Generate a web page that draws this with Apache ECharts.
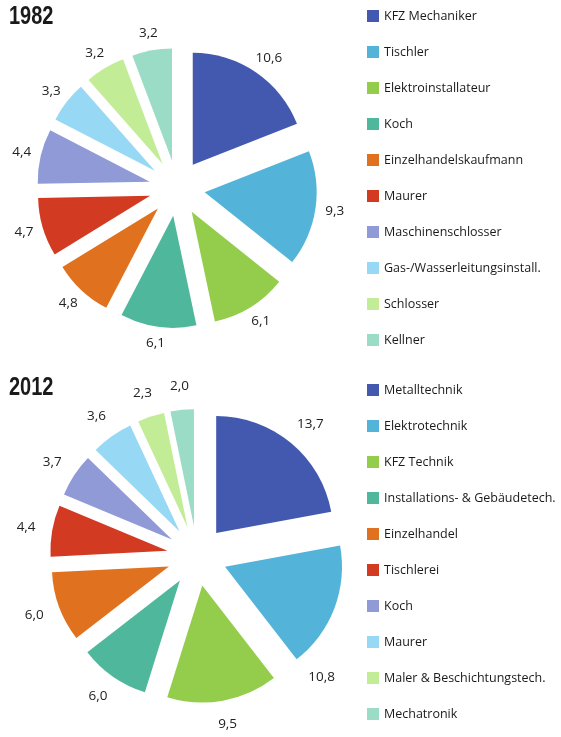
<!DOCTYPE html>
<html>
<head>
<meta charset="utf-8">
<script src="https://cdn.jsdelivr.net/npm/echarts@6/dist/echarts.min.js"></script>
<style>
  html, body { margin: 0; padding: 0; background: #fff; }
  #chart { width: 561px; height: 737px; }
</style>
</head>
<body>
<div id="chart"></div>
<script>
// Lehrlinge: die 10 häufigsten Lehrberufe (Anteil in %)
var names1982 = ['KFZ Mechaniker', 'Tischler', 'Elektroinstallateur', 'Koch', 'Einzelhandelskaufmann',
  'Maurer', 'Maschinenschlosser', 'Gas-/Wasserleitungsinstall.', 'Schlosser', 'Kellner'];
var values1982 = [10.6, 9.3, 6.1, 6.1, 4.8, 4.7, 4.4, 3.3, 3.2, 3.2];

var names2012 = ['Metalltechnik', 'Elektrotechnik', 'KFZ Technik', 'Installations- & Gebäudetech.', 'Einzelhandel',
  'Tischlerei', 'Koch', 'Maurer', 'Maler & Beschichtungstech.', 'Mechatronik'];
var values2012 = [13.7, 10.8, 9.5, 6.0, 6.0, 4.4, 3.7, 3.6, 2.3, 2.0];

var colors = ['#4359af', '#53b3d8', '#93cd4b', '#4fb79b', '#e0711f',
  '#d23a22', '#8f9ad7', '#97d8f5', '#c3ec97', '#9bdcc6'];

var chart = echarts.init(document.getElementById('chart'));

function fmt(p) {
  return p.value.toFixed(1).replace('.', ',');
}

// Richtung der Winkelhalbierenden jedes Stücks (Start oben, im Uhrzeigersinn)
function midDirs(values) {
  var total = values.reduce(function (a, b) { return a + b; }, 0);
  var cum = 0;
  return values.map(function (v) {
    var mid = (cum + v / 2) / total * Math.PI * 2;
    cum += v;
    return [Math.sin(mid), -Math.cos(mid)];
  });
}
var dirs = [midDirs(values1982), midDirs(values2012)];

// jedes Stück "herausgezogen" -> alle selektiert
function pieData(names, values) {
  return names.map(function (n, i) {
    return { name: n, value: values[i], selected: true, itemStyle: { color: colors[i] } };
  });
}

function legendData(names) {
  return names.map(function (n, i) {
    return { name: n, itemStyle: { color: colors[i] } };
  });
}

// Beschriftung wie in Excel: Textbox liegt außen an der Winkelhalbierenden
function labelPlace(params) {
  var d = dirs[params.seriesIndex][params.dataIndex];
  var r = params.labelRect;
  var dx = d[0] * r.width / 2;
  var dy = d[1] * r.height / 2;
  if (params.seriesIndex === 1 && params.dataIndex === 1) { // 10,8 sitzt im Original unter dem Stück
    dx -= 41; dy += 60;
  }
  return { align: 'center', verticalAlign: 'middle', dx: dx, dy: dy };
}

function pieSeries(names, values, center, radius, offset, labelLen) {
  return {
    type: 'pie',
    center: center,
    radius: radius,
    startAngle: 90,
    clockwise: true,
    selectedMode: 'multiple',
    selectedOffset: offset,
    avoidLabelOverlap: false,
    silent: true,
    label: {
      show: true,
      position: 'outside',
      formatter: fmt,
      distanceToLabelLine: 0,
      fontFamily: 'Open Sans',
      fontSize: 13.5,
      color: '#222'
    },
    labelLine: { show: false, length: labelLen, length2: 0 },
    labelLayout: labelPlace,
    emphasis: { disabled: true },
    data: pieData(names, values)
  };
}

var legendBase = {
  orient: 'vertical',
  left: 367,
  padding: 0,
  icon: 'rect',
  itemWidth: 12,
  itemHeight: 12,
  itemGap: 23,
  selectedMode: false,
  textStyle: { fontFamily: 'Open Sans', fontSize: 12.5, color: '#1a1a1a', lineHeight: 12 }
};

var titleFont = 'bold 25px "Liberation Sans", Arial, sans-serif';

var option = {
  backgroundColor: '#fff',
  animation: false,
  graphic: [
    { type: 'text', x: 9, y: 17, scaleX: 0.8,
      style: { text: '1982', font: titleFont, fill: '#1a1a1a', align: 'left', verticalAlign: 'middle' } },
    { type: 'text', x: 9, y: 388.5, scaleX: 0.8,
      style: { text: '2012', font: titleFont, fill: '#1a1a1a', align: 'left', verticalAlign: 'middle' } }
  ],
  legend: [
    Object.assign({}, legendBase, { top: 9.5, data: legendData(names1982) }),
    Object.assign({}, legendBase, { top: 383.5, data: legendData(names2012) })
  ],
  series: [
    pieSeries(names1982, values1982, [177, 188], 112, 28, 10),
    pieSeries(names2012, values2012, [197, 556], 117, 30, 17)
  ]
};

chart.setOption(option);
</script>
</body>
</html>
